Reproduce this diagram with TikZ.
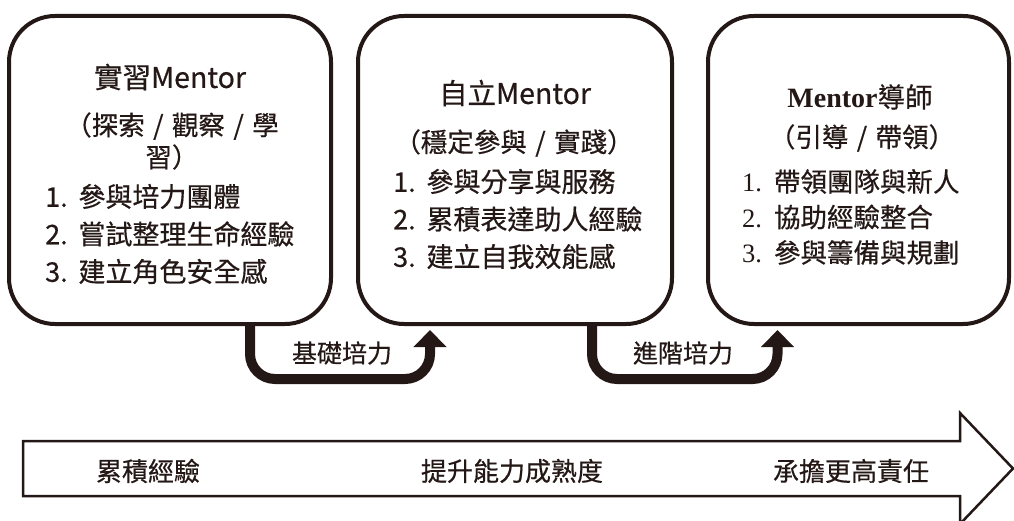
\documentclass[tikz,border=0pt]{standalone}
\usepackage{fontspec}
\setmainfont{Noto Sans CJK TC}[FakeBold=0.5]
\newfontfamily\tnr{Liberation Serif}
\usetikzlibrary{arrows.meta}
\definecolor{ink}{HTML}{231815}
\newcommand{\myslash}{\hspace{2.5pt}/\hspace{2.5pt}}
\begin{document}
\begin{tikzpicture}[x=1pt,y=-1pt,
  stage/.style={draw=ink, line width=4pt, rounded corners=46pt, minimum height=308pt, inner sep=0pt},
  ttl/.style={text=ink, inner sep=0pt, font=\fontsize{28.5}{34}\selectfont},
  subt/.style={text=ink, inner sep=0pt, align=center, font=\fontsize{26.5}{32}\selectfont},
  itm/.style={text=ink, inner sep=0pt, align=left, anchor=west, font=\fontsize{27}{37.5}\selectfont},
  conn/.style={draw=ink, line width=10pt, rounded corners=25pt, -{Triangle[width=32pt,length=17pt]}},
  lbl/.style={text=ink, inner sep=0pt, font=\fontsize{25}{30}\selectfont},
  bar/.style={draw=ink, line width=2.5pt, line join=miter}
]
\useasboundingbox (0,0) rectangle (1014,521);
% stage boxes
\node[stage, minimum width=322pt] (b1) at (170,170) {};
\node[stage, minimum width=314pt] (b2) at (515,170) {};
\node[stage, minimum width=301pt] (b3) at (858.5,170) {};
% box 1 texts
\node[ttl] (t1) at (170,77) {實習Mentor};
\node[subt] (s1) at (172,141) {（探索 \myslash{} 觀察 \myslash{} 學\\習）};
\node[itm] (l1) at (45,234) {1.\hspace{0.4em}參與培力團體\\2.\hspace{0.4em}嘗試整理生命經驗\\3.\hspace{0.4em}建立角色安全感};
% box 2 texts
\node[ttl] (t2) at (515,93) {自立Mentor};
\node[subt] (s2) at (514,143) {（穩定參與 \myslash{} 實踐）};
\node[itm] (l2) at (393,219) {1.\hspace{0.4em}參與分享與服務\\2.\hspace{0.4em}累積表達助人經驗\\3.\hspace{0.4em}建立自我效能感};
% box 3 texts
\node[ttl] (t3) at (860,97) {{\tnr\bfseries\fontsize{28}{34}\selectfont Mentor}\fontsize{27.5}{34}\selectfont 導師};
\node[subt] (s3) at (862,138) {（引導 \myslash{} 帶領）};
\node[itm, font=\fontsize{26.5}{35.5}\selectfont] (l3) at (742,217) {{\tnr 1.}\hspace{0.45em}帶領團隊與新人\\{\tnr 2.}\hspace{0.45em}協助經驗整合\\{\tnr 3.}\hspace{0.45em}參與籌備與規劃};
% connectors
\draw[conn] ([xshift=80pt]b1.south) -- ++(0,53) -| ([xshift=-85pt,yshift=-4pt]b2.south);
\draw[conn] ([xshift=77pt]b2.south) -- ++(0,53) -| ([xshift=-81pt,yshift=-4pt]b3.south);
\node[lbl] (c1) at (342,353) {基礎培力};
\node[lbl] (c2) at (683,353) {進階培力};
% bottom progression arrow
\draw[bar] (23,441) -- (960,441) -- (960,413) -- (1013,468.5) -- (960,524) -- (960,496) -- (23,496) -- cycle;
\node[lbl, font=\fontsize{26}{30}\selectfont] (p1) at (148,471) {累積經驗};
\node[lbl, font=\fontsize{26}{30}\selectfont] (p2) at (512,471) {提升能力成熟度};
\node[lbl, font=\fontsize{26}{30}\selectfont] (p3) at (851,471) {承擔更高責任};
\end{tikzpicture}
\end{document}
